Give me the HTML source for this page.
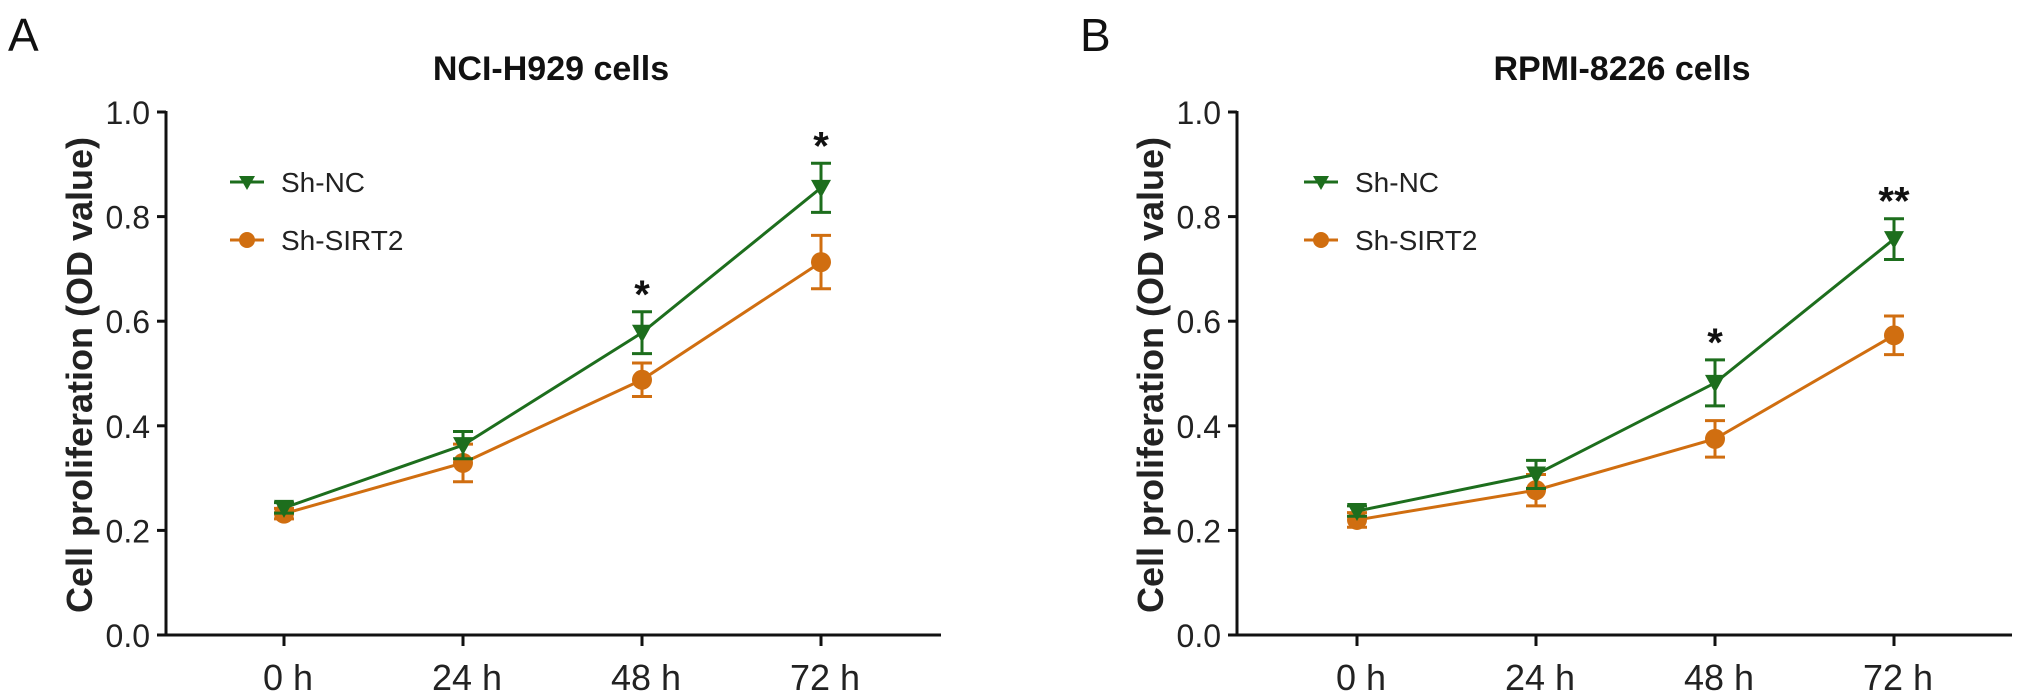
<!DOCTYPE html>
<html><head><meta charset="utf-8"><style>
html,body{margin:0;padding:0;background:#fff;}
svg{display:block;font-family:"Liberation Sans",Arial,sans-serif;}
</style></head><body>
<svg id="fig" width="2031" height="692" viewBox="0 0 2031 692" xmlns="http://www.w3.org/2000/svg"></svg>
<script>
const categories = ["0 h","24 h","48 h","72 h"];
const yTicks = [0,0.2,0.4,0.6,0.8,1.0];
const titles = ["NCI-H929 cells","RPMI-8226 cells"];
const panelLetters = ["A","B"];
const seriesNames = ["Sh-NC","Sh-SIRT2"];
const aNC = [0.243,0.363,0.578,0.855];
const aNCerr = [0.01,0.026,0.04,0.047];
const aSI = [0.232,0.329,0.488,0.713];
const aSIerr = [0.01,0.036,0.032,0.051];
const bNC = [0.237,0.307,0.482,0.757];
const bNCerr = [0.01,0.027,0.044,0.039];
const bSI = [0.22,0.277,0.375,0.573];
const bSIerr = [0.014,0.03,0.035,0.037];
const aStars = ["","","*","*"];
const bStars = ["","","*","**"];

const NS="http://www.w3.org/2000/svg";
const svg=document.getElementById('fig');
const GREEN="#1d6e1d", ORANGE="#d06e10";
function mk(tag,attrs,parent){const e=document.createElementNS(NS,tag);for(const k in attrs)e.setAttribute(k,attrs[k]);(parent||svg).appendChild(e);return e;}

const panels=[
 {ox:166, c0:284, nc:aNC, ncE:aNCerr, si:aSI, siE:aSIerr, stars:aStars, letterX:8, legX:230},
 {ox:1237, c0:1357, nc:bNC, ncE:bNCerr, si:bSI, siE:bSIerr, stars:bStars, letterX:1080, legX:1304}
];
const yTop=112, yBot=635, step=179, axisLen=775;

panels.forEach((p,pi)=>{
  const g=mk('g',{});
  
  
  const y=v=>yBot-(v/1.0)*(yBot-yTop);
  const x=i=>p.c0+i*step;

  const L=mk('text',{x:p.letterX,y:51,'font-size':46,fill:'#111'},g);L.textContent=panelLetters[pi];
  

  const T=mk('text',{x:p.ox+385,y:80,'font-size':34,'font-weight':'bold','text-anchor':'middle',fill:'#111'},g);T.textContent=titles[pi];
  

  const ya=mk('line',{x1:p.ox,y1:yTop-1,x2:p.ox,y2:yBot+1.5,stroke:'#111','stroke-width':3},g);
  
  const xa=mk('line',{x1:p.ox-1.5,y1:yBot,x2:p.ox+axisLen,y2:yBot,stroke:'#111','stroke-width':3},g);
  

  yTicks.forEach(t=>{
    mk('line',{x1:p.ox-9,y1:y(t),x2:p.ox,y2:y(t),stroke:'#111','stroke-width':3},g);
    const tl=mk('text',{x:p.ox-16,y:y(t)+12,'font-size':32,'text-anchor':'end',fill:'#222'},g);
    tl.textContent=t.toFixed(1);
    
  });
  categories.forEach((c,i)=>{
    mk('line',{x1:x(i),y1:yBot,x2:x(i),y2:yBot+11,stroke:'#111','stroke-width':3},g);
    const xl=mk('text',{x:x(i)+4,y:690,'font-size':36,'text-anchor':'middle',fill:'#222'},g);
    xl.textContent=c;
    
  });
  const yt=mk('text',{x:0,y:0,'font-size':36,'font-weight':'bold','text-anchor':'middle',fill:'#222',transform:`translate(${p.ox-74},375) rotate(-90)`},g);
  yt.textContent="Cell proliferation (OD value)";
  

  function series(vals,errs,color,marker,name){
    const sg=mk('g',{},g);
    
    mk('polyline',{points:vals.map((v,i)=>x(i)+','+y(v)).join(' '),fill:'none',stroke:color,'stroke-width':3},sg);
    vals.forEach((v,i)=>{
      const e=errs[i];
      mk('path',{d:`M${x(i)},${y(v+e)}V${y(v-e)}M${x(i)-10},${y(v+e)}h20M${x(i)-10},${y(v-e)}h20`,stroke:color,'stroke-width':3,fill:'none'},sg);
      let m;
      if(marker==='tri') m=mk('path',{d:`M${x(i)-10},${y(v)-8}h20l-10,18z`,fill:color},sg);
      else m=mk('circle',{cx:x(i),cy:y(v),r:10,fill:color},sg);
      
    });
  }
  series(p.si,p.siE,ORANGE,'circ','sh-sirt2');
  series(p.nc,p.ncE,GREEN,'tri','sh-nc');

  p.stars.forEach((s,i)=>{
    if(!s) return;
    const st=mk('text',{x:x(i),y:y(p.nc[i]+p.ncE[i])-4,'font-size':40,'font-weight':'bold','text-anchor':'middle',fill:'#111'},g);
    st.textContent=s;
    
  });

  [[GREEN,'tri',182],[ORANGE,'circ',240]].forEach((l,k)=>{
    const lg=mk('g',{},g);
    
    mk('line',{x1:p.legX,y1:l[2],x2:p.legX+34,y2:l[2],stroke:l[0],'stroke-width':3},lg);
    const cx=p.legX+17;
    if(l[1]==='tri') mk('path',{d:`M${cx-8},${l[2]-6}h16l-8,14z`,fill:l[0]},lg);
    else mk('circle',{cx:cx,cy:l[2],r:8,fill:l[0]},lg);
    const lt=mk('text',{x:p.legX+51,y:l[2]+10,'font-size':28,fill:'#222'},lg);
    lt.textContent=seriesNames[k];
  });
});
</script>
</body></html>
